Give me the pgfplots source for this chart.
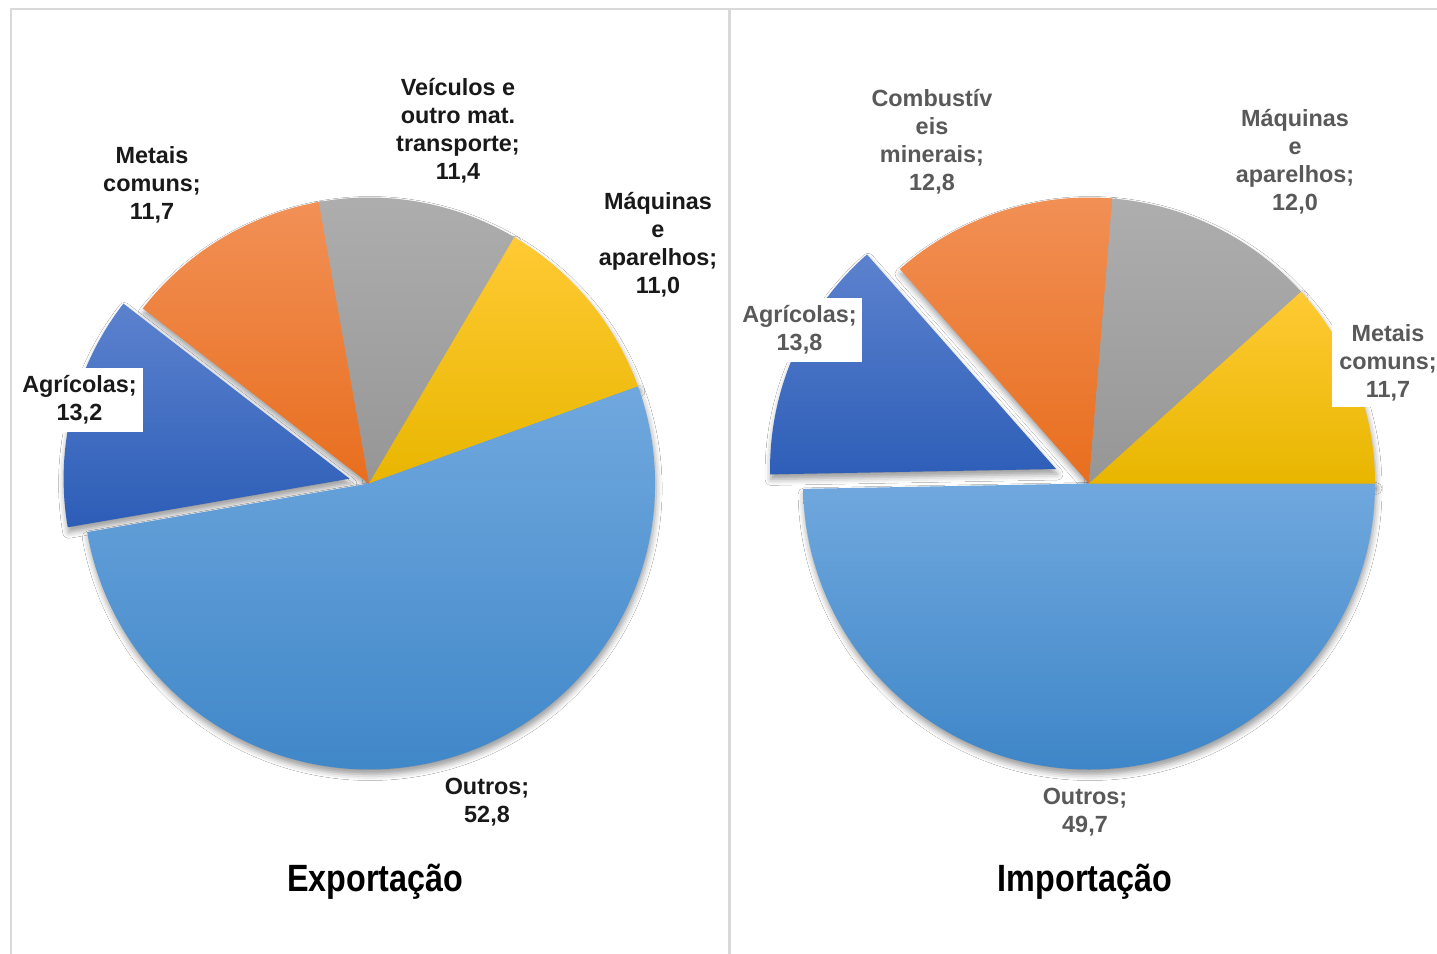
\documentclass[border=0pt]{standalone}
\usepackage{fontspec}
\setmainfont{Liberation Sans}
\newfontfamily\narrowfont[FakeStretch=0.85]{Liberation Sans}
\usepackage{pgfplots}
\pgfplotsset{compat=1.18}
\usetikzlibrary{shadows.blur}

\definecolor{frame}{RGB}{217,217,217}
\definecolor{lblgray}{RGB}{89,89,89}
\definecolor{outT}{RGB}{112,168,222}
\definecolor{outB}{RGB}{62,134,200}
\definecolor{agrT}{RGB}{92,130,206}
\definecolor{agrB}{RGB}{44,93,183}
\definecolor{orgT}{RGB}{242,144,86}
\definecolor{orgB}{RGB}{232,110,30}
\definecolor{gryT}{RGB}{174,174,174}
\definecolor{gryB}{RGB}{150,150,150}
\definecolor{ylwT}{RGB}{255,202,52}
\definecolor{ylwB}{RGB}{232,182,0}

% one wedge: centre x, centre y (px), start angle, value (%), explode, colour
\newcommand{\slice}[6]{%
  \path[top color=#6T, bottom color=#6B]
    (axis cs:#1,#2) ++({#3-1.8*(#4)}:#5) -- ++({#3}:143pt)
    arc[start angle={#3}, delta angle={-3.6*(#4)}, radius=143pt] -- cycle;}
\newcommand{\sliceshadow}[5]{%
  \path[blur shadow={shadow xshift=0.5pt, shadow yshift=-2.5pt,
        shadow blur radius=3pt, shadow opacity=40}]
    (axis cs:#1,#2) ++({#3-1.8*(#4)}:#5) -- ++({#3}:143pt)
    arc[start angle={#3}, delta angle={-3.6*(#4)}, radius=143pt] -- cycle;}

\newcommand{\lbl}{\fontsize{11.7}{14}\selectfont\bfseries}
\newcommand{\ttl}{\narrowfont\fontsize{19}{22}\selectfont\bfseries}

\begin{document}
\begin{tikzpicture}
\useasboundingbox (0,0) rectangle (718.5pt,477pt);
\clip (0,0) rectangle (718.5pt,477pt);
\fill[white] (0,0) rectangle (718.5pt,477pt);
\begin{axis}[
  at={(0,0)}, anchor=south west,
  x=0.5pt, y=0.5pt, y dir=reverse,
  xmin=0, xmax=1437, ymin=0, ymax=954,
  hide axis, clip=false,
]
% panel frames
\draw[frame, line width=1pt] (axis cs:10.5,954) -- (axis cs:10.5,8.5) -- (axis cs:1437,8.5);
\draw[frame, line width=1.5pt] (axis cs:729.5,8.5) -- (axis cs:729.5,954);

% Exportacao: Veiculos 11.4, Maquinas 11.0, Outros 52.8, Agricolas 13.2, Metais 11.7
\sliceshadow{369}{483.5}{100.5}{11.4}{0pt}
\sliceshadow{369}{483.5}{100.5-3.6*11.4}{11.0}{0pt}
\sliceshadow{369}{483.5}{100.5-3.6*(11.4+11.0)}{52.8}{0pt}
\sliceshadow{369}{483.5}{100.5-3.6*(11.4+11.0+52.8)}{13.2}{10pt}
\sliceshadow{369}{483.5}{100.5-3.6*(11.4+11.0+52.8+13.2)}{11.7}{0pt}
\slice{369}{483.5}{100.5}{11.4}{0pt}{gry}
\slice{369}{483.5}{100.5-3.6*11.4}{11.0}{0pt}{ylw}
\slice{369}{483.5}{100.5-3.6*(11.4+11.0)}{52.8}{0pt}{out}
\slice{369}{483.5}{100.5-3.6*(11.4+11.0+52.8)}{13.2}{10pt}{agr}
\slice{369}{483.5}{100.5-3.6*(11.4+11.0+52.8+13.2)}{11.7}{0pt}{org}

% Importacao: Outros 49.7, Agricolas 13.8, Combustiveis 12.8, Maquinas 12.0, Metais 11.7
\sliceshadow{1089}{483.5}{0}{49.7}{0pt}
\sliceshadow{1089}{483.5}{-3.6*49.7}{13.8}{18pt}
\sliceshadow{1089}{483.5}{-3.6*(49.7+13.8)}{12.8}{0pt}
\sliceshadow{1089}{483.5}{-3.6*(49.7+13.8+12.8)}{12.0}{0pt}
\sliceshadow{1089}{483.5}{-3.6*(49.7+13.8+12.8+12.0)}{11.7}{0pt}
\slice{1089}{483.5}{0}{49.7}{0pt}{out}
\slice{1089}{483.5}{-3.6*49.7}{13.8}{18pt}{agr}
\slice{1089}{483.5}{-3.6*(49.7+13.8)}{12.8}{0pt}{org}
\slice{1089}{483.5}{-3.6*(49.7+13.8+12.8)}{12.0}{0pt}{gry}
\slice{1089}{483.5}{-3.6*(49.7+13.8+12.8+12.0)}{11.7}{0pt}{ylw}

% labels, left
\node[align=center, font=\lbl, text=black!90] at (axis cs:152,185) {Metais\\comuns;\\11,7};
\node[align=center, font=\lbl, text=black!90] at (axis cs:458,131) {Veículos e\\outro mat.\\transporte;\\11,4};
\node[align=center, font=\lbl, text=black!90, fill=white, inner sep=1pt] at (axis cs:658,245) {Máquinas\\e\\aparelhos;\\11,0};
\node[align=center, font=\lbl, text=black!90, fill=white, minimum width=63.5pt, minimum height=32pt, inner sep=2pt] at (axis cs:79.5,400) {Agrícolas;\\13,2};
\node[align=center, font=\lbl, text=black!90] at (axis cs:487,802) {Outros;\\52,8};
\node[font=\ttl] at (axis cs:375,882) {Exportação};

% labels, right
\node[align=center, font=\lbl, text=lblgray] at (axis cs:932,142) {Combustív\\eis\\minerais;\\12,8};
\node[align=center, font=\lbl, text=lblgray] at (axis cs:1295,162) {Máquinas\\e\\aparelhos;\\12,0};
\node[align=center, font=\lbl, text=lblgray, fill=white, minimum width=62.5pt, minimum height=32pt, inner sep=2pt] at (axis cs:799.5,330) {Agrícolas;\\13,8};
\node[align=center, font=\lbl, text=lblgray, fill=white, minimum width=56pt, minimum height=44.5pt, inner sep=2pt] at (axis cs:1388,362.5) {Metais\\comuns;\\11,7};
\node[align=center, font=\lbl, text=lblgray] at (axis cs:1085,812) {Outros;\\49,7};
\node[font=\ttl] at (axis cs:1085,882) {Importação};
\end{axis}
\end{tikzpicture}
\end{document}
